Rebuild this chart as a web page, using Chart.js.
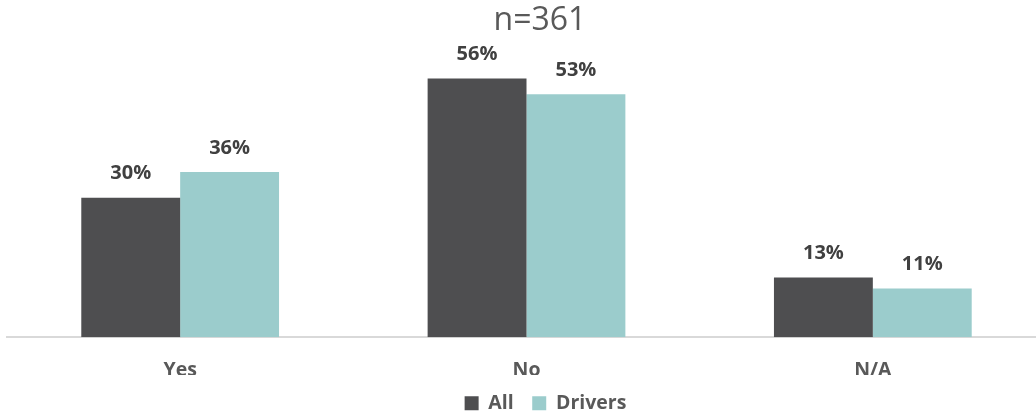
<!DOCTYPE html>
<html>
<head>
<meta charset="utf-8">
<script src="https://cdn.jsdelivr.net/npm/chart.js@4"></script>
<style>
  html, body { margin: 0; padding: 0; background: #fff; overflow: hidden; }
  .chart-container { position: relative; width: 1046px; height: 415px; }
</style>
</head>
<body>
<div class="chart-container">
  <canvas id="chart"></canvas>
</div>
<script>
// chart data
const categories = ["Yes", "No", "N/A"];
const allValues = [30.3, 56.2, 13.0];
const driverValues = [35.9, 52.8, 10.6];
const seriesNames = ["All", "Drivers"];
const titleText = "n=361";

// % labels above bars + the "n=" title (sits a bit right of centre in the original)
const barLabels = {
  id: "barLabels",
  afterLayout(chart) {
    // legend is also off-centre to the right in the original
    chart.legend.left += 19;
    chart.legend.right += 19;
  },
  afterDatasetsDraw(chart) {
    const ctx = chart.ctx;
    ctx.save();
    ctx.font = "bold 20px 'Open Sans'";
    ctx.fillStyle = "#404040";
    ctx.textAlign = "center";
    ctx.textBaseline = "middle";
    chart.data.datasets.forEach((ds, i) => {
      chart.getDatasetMeta(i).data.forEach((bar, j) => {
        ctx.fillText(Math.round(ds.data[j]) + "%", bar.x, bar.y - 24);
      });
    });
    ctx.font = "32px 'Open Sans'";
    ctx.fillStyle = "#595959";
    ctx.fillText(titleText, 540, 21);
    ctx.restore();
  }
};

new Chart(document.getElementById("chart"), {
  type: "bar",
  data: {
    labels: categories,
    datasets: [
      { label: seriesNames[0], data: allValues, backgroundColor: "#4e4e50" },
      { label: seriesNames[1], data: driverValues, backgroundColor: "#9bcccc" }
    ]
  },
  options: {
    responsive: true,
    maintainAspectRatio: false,
    animation: false,
    layout: { padding: { left: 7, right: 0, top: 61, bottom: -8 } },
    datasets: { bar: { categoryPercentage: 0.571, barPercentage: 1 } },
    scales: {
      x: {
        grid: { display: false, drawTicks: true, tickLength: 28 },
        border: { color: "#d9d9d9", width: 2 },
        ticks: {
          color: "#595959", padding: 0,
          font: { family: "Open Sans", size: 19.5, weight: "bold", lineHeight: 0.5 }
        }
      },
      y: { display: false, min: 0, max: 60 }
    },
    plugins: {
      legend: {
        position: "bottom",
        labels: {
          boxWidth: 14, boxHeight: 14, padding: 18.5,
          color: "#595959",
          font: { family: "Open Sans", size: 19.5, weight: "bold" }
        }
      },
      tooltip: { enabled: false }
    }
  },
  plugins: [barLabels]
});
</script>
</body>
</html>
